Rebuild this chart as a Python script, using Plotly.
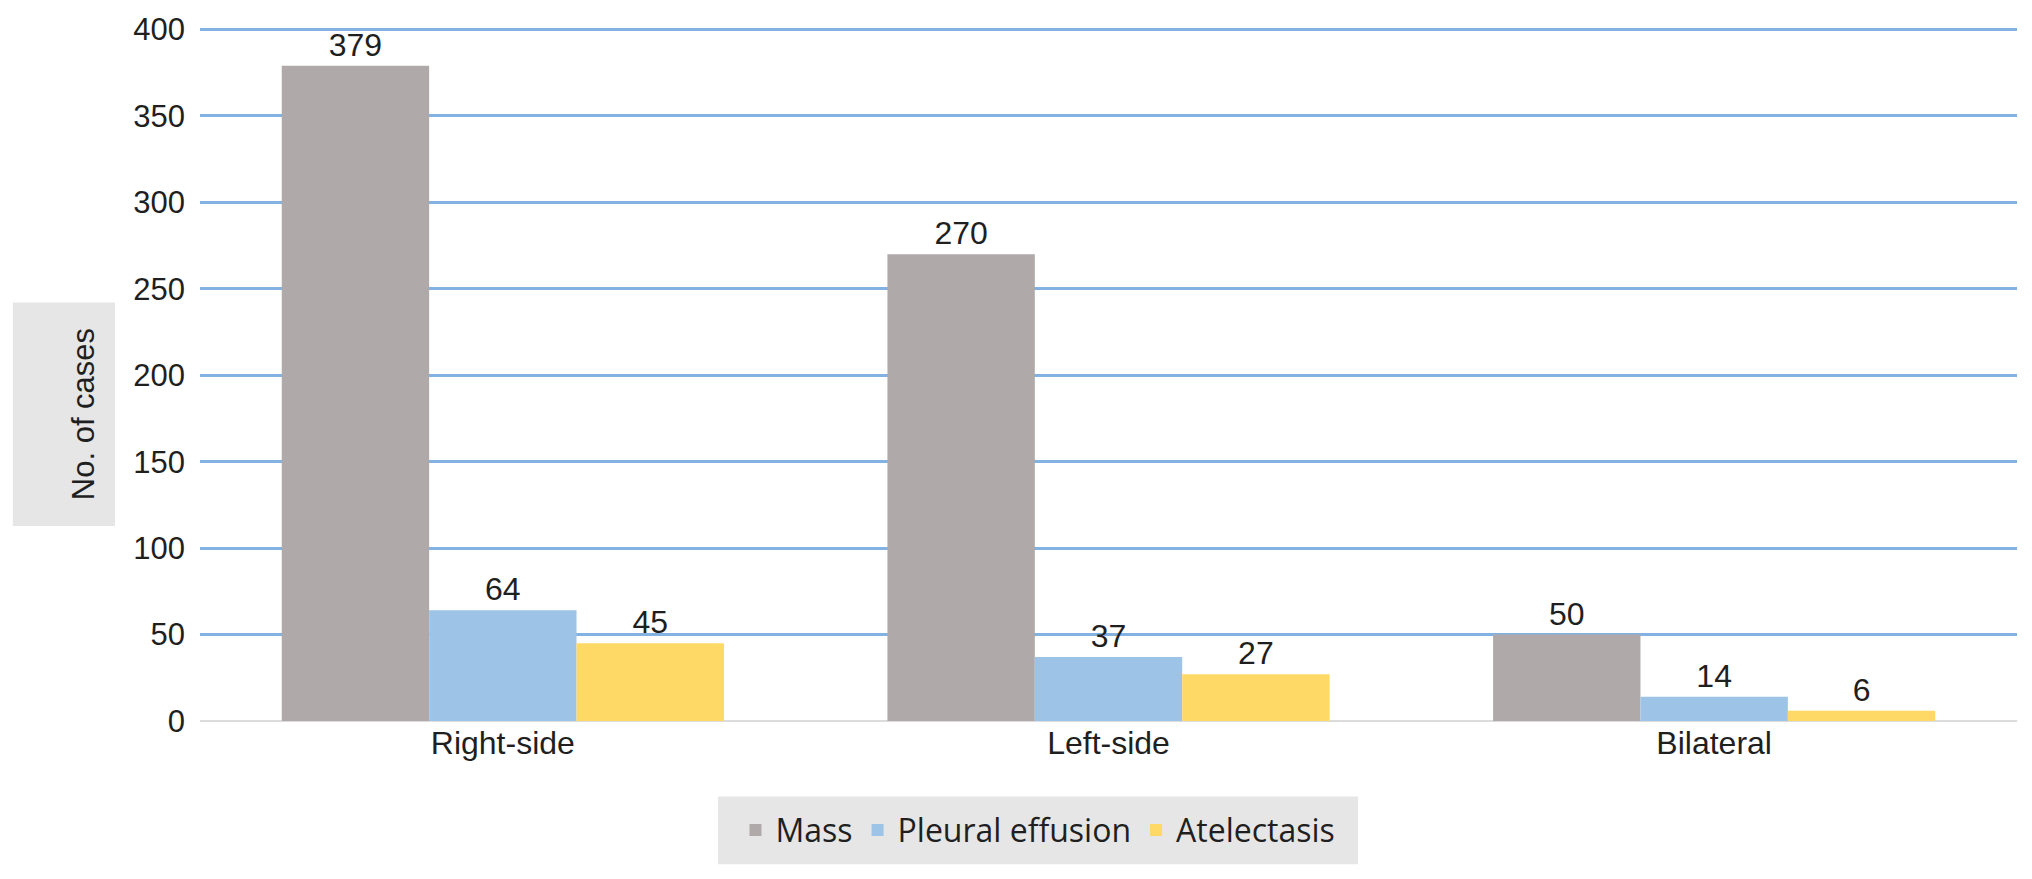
import plotly.graph_objects as go

# Lesion side vs. radiological finding
categories = ['Right-side', 'Left-side', 'Bilateral']
mass = [379, 270, 50]
pleural_effusion = [64, 37, 14]
atelectasis = [45, 27, 6]

series = [
    ('Mass', mass, '#AFA9A9'),
    ('Pleural effusion', pleural_effusion, '#9DC3E6'),
    ('Atelectasis', atelectasis, '#FFD966'),
]

y_ticks = [0, 50, 100, 150, 200, 250, 300, 350, 400]

fig = go.Figure()
for name, vals, col in series:
    fig.add_trace(go.Bar(
        x=categories, y=vals, name=name,
        marker=dict(color=col, line=dict(width=0)),
        text=[str(v) for v in vals],
        textposition='outside',
        textfont=dict(family='Liberation Sans, Arial', size=32, color='#1f1f1f'),
        cliponaxis=False,
    ))

fig.update_layout(
    width=2032, height=879,
    barmode='group',
    bargap=0.27,
    bargroupgap=0,
    margin=dict(l=200, r=15, t=22, b=158),
    plot_bgcolor='white',
    paper_bgcolor='white',
    font=dict(family='Liberation Sans, Arial', size=32, color='#1f1f1f'),
    showlegend=True,
    legend=dict(
        orientation='h',
        x=0.4612, xanchor='center',
        y=-0.157, yanchor='middle',
        bgcolor='rgba(0,0,0,0)',
        font=dict(family='Open Sans', size=32, color='#1f1f1f'),
        traceorder='normal',
    ),
    xaxis=dict(
        showgrid=False, showline=False, ticks='',
        tickfont=dict(size=32),
    ),
    yaxis=dict(
        range=[0, 402],
        tickvals=y_ticks,
        showgrid=True, gridcolor='#82B2E2', gridwidth=2.5,
        zeroline=True, zerolinecolor='#DCDCDC', zerolinewidth=2,
        showline=False, ticks='',
        ticklabelstandoff=14,
        tickfont=dict(size=31),
    ),
    shapes=[
        # y-axis title box
        dict(type='rect', xref='paper', yref='paper',
             x0=-0.1030, x1=-0.0468, y0=0.2804, y1=0.6023,
             fillcolor='#E6E6E6', line=dict(width=0), layer='below'),
        # legend box
        dict(type='rect', xref='paper', yref='paper',
             x0=0.2851, x1=0.6373, y0=-0.206, y1=-0.1087,
             fillcolor='#E6E6E6', line=dict(width=0), layer='below'),
    ],
    annotations=[dict(
        text='No. of cases', xref='paper', yref='paper',
        x=-0.0749, y=0.442, textangle=-90, showarrow=False,
        font=dict(size=31, color='#1f1f1f'),
    )],
)

fig.write_html('out.html', config={'displayModeBar': False},
               post_script="document.body.style.margin='0';")
